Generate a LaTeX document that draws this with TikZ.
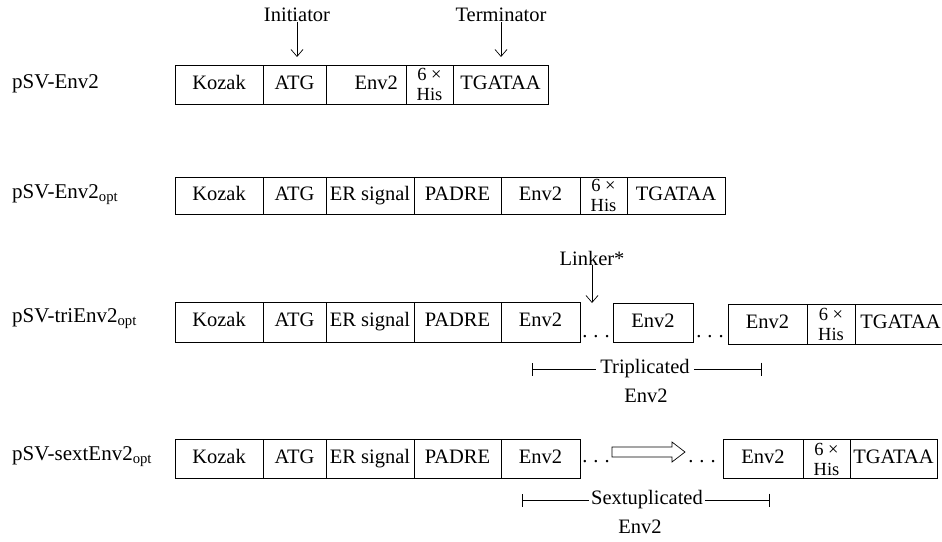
\documentclass[tikz,border=0pt]{standalone}
\usepackage{fontspec}
\setmainfont{Liberation Serif}
\usetikzlibrary{arrows.meta}

\newcommand{\gapdots}{.\hspace{6pt}.\hspace{6pt}.}

\begin{document}
\begin{tikzpicture}[x=1pt,y=1pt,
  seg/.style={draw, rectangle, minimum height=39pt, line width=0.8pt},
  word/.style={seg, text height=13pt, text depth=4pt},
  his/.style={seg, align=center, font=\fontsize{18.5}{20}\selectfont},
  title/.style={anchor=west, font=\fontsize{21}{24}\selectfont},
  down/.style={-{Straight Barb[length=7pt,width=12pt]}, line width=0.7pt},
  spanl/.style={{Bar[width=13pt]}-, line width=0.7pt},
  spanr/.style={-{Bar[width=13pt]}, line width=0.7pt}]
\tikzstyle{every node}+=[inner sep=0pt, font=\fontsize{20.5}{23}\selectfont]
\useasboundingbox (0,0) rectangle (942,-541);
\node [title] (lab1) at (12,-84) {pSV-Env2};
\node [title] (lab2) at (12,-195) {pSV-Env2\textsubscript{opt}};
\node [title] (lab3) at (12,-319) {pSV-triEnv2\textsubscript{opt}};
\node [title] (lab4) at (12,-457) {pSV-sextEnv2\textsubscript{opt}};
\node (init) at (297,-15) {Initiator};
\node (term) at (501,-15) {Terminator};
\coordinate (initend) at (297,-57);
\coordinate (termend) at (501,-57);
\draw [down] (init) -- (initend);
\draw [down] (term) -- (termend);
\node [word, minimum width=88pt] (koz1) at (219,-84.5) {Kozak};
\node [word, minimum width=63pt] (atg1) at (294.5,-84.5) {ATG};
\node [word, minimum width=80pt] (env1) at (366,-84.5) {\quad Env2};
\node [his, minimum width=47pt] (his1) at (429.5,-84.5) {6 ×\\His};
\node [word, minimum width=95pt] (tga1) at (500.5,-84.5) {TGATAA};
\node [word, minimum height=37pt, minimum width=88pt] (koz2) at (219,-195.5) {Kozak};
\node [word, minimum height=37pt, minimum width=63pt] (atg2) at (294.5,-195.5) {ATG};
\node [word, minimum height=37pt, minimum width=88pt] (ers2) at (370,-195.5) {ER signal};
\node [word, minimum height=37pt, minimum width=87pt] (pad2) at (457.5,-195.5) {PADRE};
\node [word, minimum height=37pt, minimum width=79pt] (env2) at (540.5,-195.5) {Env2};
\node [his, minimum height=37pt, minimum width=47pt] (his2) at (603.5,-195.5) {6 ×\\His};
\node [word, minimum height=37pt, minimum width=98pt] (tga2) at (676,-195.5) {TGATAA};
\node [word, minimum height=40pt, minimum width=88pt] (koz3) at (219,-322) {Kozak};
\node [word, minimum height=40pt, minimum width=63pt] (atg3) at (294.5,-322) {ATG};
\node [word, minimum height=40pt, minimum width=88pt] (ers3) at (370,-322) {ER signal};
\node [word, minimum height=40pt, minimum width=87pt] (pad3) at (457.5,-322) {PADRE};
\node [word, minimum height=40pt, minimum width=79pt] (enva3) at (540.5,-322) {Env2};
\node [anchor=base] (dota3) at (596,-337) {\gapdots};
\node [word, minimum width=80pt] (envb3) at (653,-323) {Env2};
\node [anchor=base] (dotb3) at (710,-337) {\gapdots};
\node [word, minimum height=40pt, minimum width=79pt] (envc3) at (767.5,-324) {Env2};
\node [his, minimum height=40pt, minimum width=48pt] (his3) at (831,-324) {6 ×\\His};
\node [word, minimum height=40pt, minimum width=91pt] (tga3) at (900.5,-324) {TGATAA};
\node (link) at (592,-258) {Linker*};
\coordinate (linkend) at (592,-303);
\draw [down] (link) -- (linkend);
\coordinate (tril) at (532,-369);
\coordinate (trir) at (762,-369);
\node [inner xsep=4pt] (tri) at (645,-369) {Triplicated};
\draw [spanl] (tril) -- (tri);
\draw [spanr] (tri) -- (trir);
\node (trienv) at (646,-396) {Env2};
\node [word, minimum width=88pt] (koz4) at (219,-458.5) {Kozak};
\node [word, minimum width=63pt] (atg4) at (294.5,-458.5) {ATG};
\node [word, minimum width=88pt] (ers4) at (370,-458.5) {ER signal};
\node [word, minimum width=87pt] (pad4) at (457.5,-458.5) {PADRE};
\node [word, minimum width=79pt] (enva4) at (540.5,-458.5) {Env2};
\node [anchor=base] (dota4) at (596,-462) {\gapdots};
\draw [line width=0.7pt] (612,-447) -- (672,-447) -- (672,-442) -- (685,-452)
  -- (672,-462) -- (672,-457) -- (612,-457) -- cycle;
\node [anchor=base] (dotb4) at (702,-462) {\gapdots};
\node [word, minimum width=80pt] (envb4) at (763,-459) {Env2};
\node [his, minimum width=47pt] (his4) at (826.5,-459) {6 ×\\His};
\node [word, minimum width=87pt] (tga4) at (893.5,-459) {TGATAA};
\coordinate (sexl) at (522,-500);
\coordinate (sexr) at (770,-500);
\node [inner xsep=2pt] (sex) at (647,-500) {Sextuplicated};
\draw [spanl] (sexl) -- (sex);
\draw [spanr] (sex) -- (sexr);
\node (sexenv) at (640,-527) {Env2};
\end{tikzpicture}
\end{document}
